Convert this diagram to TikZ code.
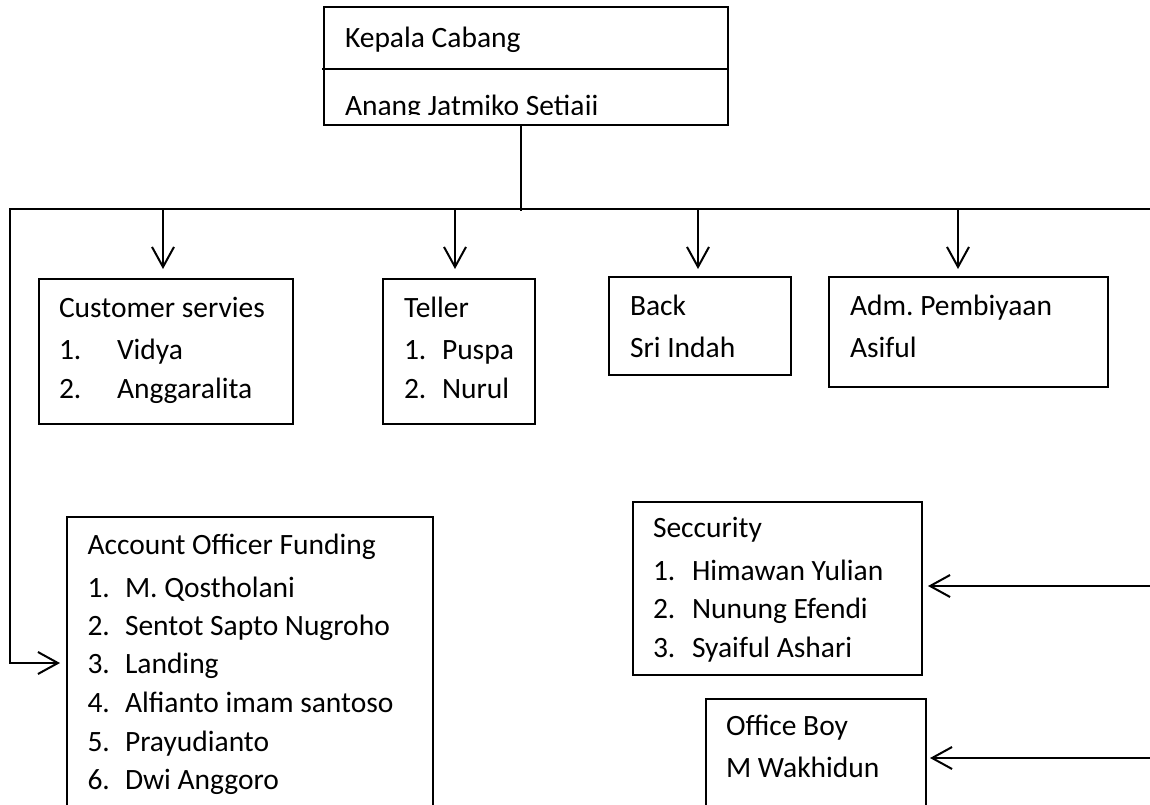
\documentclass[tikz,border=0pt]{standalone}
\usepackage{fontspec}
\setmainfont{Carlito}
\usetikzlibrary{arrows.meta}
\frenchspacing
\begin{document}
\begin{tikzpicture}[x=1pt,y=-1pt,
  box/.style={draw, line width=1.3pt, rectangle, inner sep=0pt, outer sep=0pt, anchor=north west},
  txt/.style={anchor=base west, inner sep=0pt, outer sep=0pt, font=\fontsize{29.5}{36}\selectfont},
  conn/.style={line width=2pt},
  arr/.style={conn, -{Straight Barb[length=20pt,width=22pt]}}]
\useasboundingbox (0,0) rectangle (1150,804);

% boxes
\node[box, minimum width=404pt, minimum height=118pt] (kc)   at (324,7) {};
\node[box, minimum width=254pt, minimum height=145pt] (cs)   at (39,279) {};
\node[box, minimum width=152pt, minimum height=145pt] (tel)  at (383,279) {};
\node[box, minimum width=182pt, minimum height=98pt]  (back) at (609,277) {};
\node[box, minimum width=279pt, minimum height=110pt] (adm)  at (829,277) {};
\node[box, minimum width=366pt, minimum height=300pt] (aof)  at (67,517) {};
\node[box, minimum width=289pt, minimum height=173pt] (sec)  at (633,502) {};
\node[box, minimum width=220pt, minimum height=120pt] (ob)   at (706,699) {};

% head box
\coordinate (dvl) at (322,69);
\draw[line width=1.3pt] (dvl) -- (dvl -| kc.east);
\node[txt] (kc1) at (345,47) {Kepala Cabang};
\begin{scope}
  \clip (325,70) rectangle (727,114.5);
  \node[txt] (kc2) at (345,115.5) {Anang Jatmiko Setiaji};
\end{scope}

% customer service
\node[txt] (csh) at (59,317) {Customer servies};
\foreach \n/\nm/\yy in {1/Vidya/359, 2/Anggaralita/398}{
  \node[txt] (csn\n) at (59,\yy) {\n.};
  \node[txt] (csm\n) at (117,\yy) {\nm};
}

% teller
\node[txt] (telh) at (404,317) {Teller};
\foreach \n/\nm/\yy in {1/Puspa/359, 2/Nurul/398}{
  \node[txt] (teln\n) at (404,\yy) {\n.};
  \node[txt] (telm\n) at (442,\yy) {\nm};
}

% back
\node[txt] (backh) at (630,315) {Back};
\node[txt] (backm) at (630,357) {Sri Indah};

% adm
\node[txt] (admh) at (850,315) {Adm. Pembiyaan};
\node[txt] (admm) at (850,357) {Asiful};

% account officer funding
\node[txt] (aofh) at (87.5,554) {Account Officer Funding};
\foreach \n/\nm/\yy in {1/{M. Qostholani}/597, 2/{Sentot Sapto Nugroho}/635, 3/{Landing}/673.5, 4/{Alfianto imam santoso}/712, 5/{Prayudianto}/751, 6/{Dwi Anggoro}/789}{
  \node[txt] (aofn\n) at (87.5,\yy) {\n.};
  \node[txt] (aofm\n) at (125,\yy) {\nm};
}

% security
\node[txt] (sech) at (653,537) {Seccurity};
\foreach \n/\nm/\yy in {1/{Himawan Yulian}/580, 2/{Nunung Efendi}/618.5, 3/{Syaiful Ashari}/657}{
  \node[txt] (secn\n) at (653,\yy) {\n.};
  \node[txt] (secm\n) at (692,\yy) {\nm};
}

% office boy
\node[txt] (obh) at (726,735) {Office Boy};
\node[txt] (obm) at (726,777) {M Wakhidun};

% connectors
\coordinate (jn) at (521,211);
\draw[conn] (jn |- kc.south) -- (jn);
\coordinate (hl) at (10,209);
\coordinate (hr) at (1153,209);
\coordinate (lc) at (10,663);
\draw[arr, shorten >=7pt] (hr) -- (hl) -- (lc) -- (lc -| aof.west);

\coordinate (dcs) at (163,209);
\coordinate (dtel) at (455,209);
\coordinate (dback) at (698,209);
\coordinate (dadm) at (958,209);
\draw[arr, shorten >=10pt] (dcs) -- (dcs |- cs.north);
\draw[arr, shorten >=10pt] (dtel) -- (dtel |- tel.north);
\draw[arr, shorten >=8pt] (dback) -- (dback |- back.north);
\draw[arr, shorten >=8pt] (dadm) -- (dadm |- adm.north);

\coordinate (rs) at (1153,586);
\coordinate (rob) at (1153,758);
\draw[arr, shorten >=6pt] (rs) -- (rs -| sec.east);
\draw[arr, shorten >=4pt] (rob) -- (rob -| ob.east);
\end{tikzpicture}
\end{document}
